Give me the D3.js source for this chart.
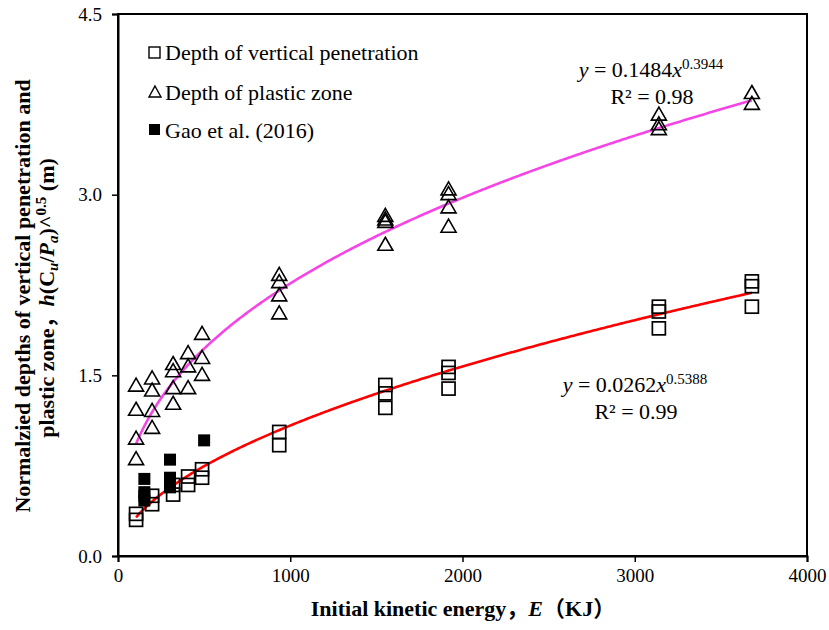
<!DOCTYPE html>
<html>
<head>
<meta charset="utf-8">
<script src="https://cdn.jsdelivr.net/npm/d3@7"></script>
<style>
  body { margin: 0; background: #fff; }
  text { font-family: "Liberation Serif", "Times New Roman", "Noto Sans CJK SC", serif; }
</style>
</head>
<body>
<svg id="chart" width="829" height="630"></svg>
<script>
// measured points, [E (kJ), normalized depth]
var penetration = [
    [105, 0.30], [105, 0.35],
    [198, 0.43], [198, 0.50],
    [320, 0.51], [320, 0.59],
    [407, 0.59], [407, 0.66],
    [488, 0.65], [488, 0.72],
    [936, 0.92], [936, 1.03],
    [1552, 1.23], [1552, 1.35], [1552, 1.42],
    [1919, 1.39], [1919, 1.52], [1919, 1.57],
    [3140, 1.89], [3140, 2.03], [3140, 2.07],
    [3680, 2.07], [3680, 2.24], [3680, 2.28]
];
var plastic = [
    [105, 0.80], [105, 0.97], [105, 1.21], [105, 1.41],
    [198, 1.06], [198, 1.20], [198, 1.37], [198, 1.47],
    [320, 1.26], [320, 1.39], [320, 1.53], [320, 1.59],
    [407, 1.39], [407, 1.57], [407, 1.68],
    [488, 1.50], [488, 1.64], [488, 1.84],
    [936, 2.01], [936, 2.16], [936, 2.27], [936, 2.33],
    [1552, 2.58], [1552, 2.77], [1552, 2.79], [1552, 2.82],
    [1919, 2.73], [1919, 2.89], [1919, 3.00], [1919, 3.04],
    [3140, 3.54], [3140, 3.58], [3140, 3.66],
    [3680, 3.75], [3680, 3.84]
];
var gao = [
    [153, 0.46], [153, 0.50], [153, 0.53], [153, 0.64],
    [302, 0.57], [302, 0.61], [302, 0.65], [302, 0.80],
    [500, 0.96]
];
// power trend lines y = a * x^b
var fitPenetration = {a: 0.0262, b: 0.5388, r2: "0.99"};
var fitPlastic = {a: 0.1484, b: 0.3944, r2: "0.98"};
var xTicks = [0, 1000, 2000, 3000, 4000];
var yTicks = [0, 1.5, 3.0, 4.5];

var svg = d3.select("#chart");
var plotLeft = 118, plotRight = 807, plotTop = 14, plotBottom = 556;

var x = d3.scaleLinear().domain([0, 4000]).range([plotLeft, plotRight]);
var y = d3.scaleLinear().domain([0, 4.5]).range([plotBottom, plotTop]);

// frame
svg.append("rect")
    .attr("x", plotLeft).attr("y", plotTop)
    .attr("width", plotRight - plotLeft).attr("height", plotBottom - plotTop)
    .attr("fill", "none").attr("stroke", "#000").attr("stroke-width", 2);

var xAxis = svg.append("g")
    .attr("transform", "translate(0," + plotBottom + ")")
    .call(d3.axisBottom(x).tickValues(xTicks).tickSize(6).tickPadding(7).tickFormat(d3.format("d")));
var yAxis = svg.append("g")
    .attr("transform", "translate(" + plotLeft + ",0)")
    .call(d3.axisLeft(y).tickValues(yTicks).tickSize(6).tickPadding(10).tickFormat(d3.format(".1f")));
[xAxis, yAxis].forEach(function(g) {
    g.select(".domain").attr("stroke-width", 2);
    g.selectAll(".tick line").attr("stroke-width", 1.5);
    g.selectAll(".tick text")
        .style("font-family", "'Liberation Serif', serif")
        .style("font-size", "19px")
        .attr("fill", "#000");
});

// trend curves
function curve(fit) {
    var xs = d3.range(105, 3680, 10).concat([3680]);
    return d3.line()
        .x(function(d) { return x(d); })
        .y(function(d) { return y(fit.a * Math.pow(d, fit.b)); })(xs);
}
svg.append("path").attr("d", curve(fitPlastic))
    .attr("fill", "none").attr("stroke", "#f545e6").attr("stroke-width", 2.6);
svg.append("path").attr("d", curve(fitPenetration))
    .attr("fill", "none").attr("stroke", "#ff0000").attr("stroke-width", 2.6);

// markers
var sq = 13;
svg.append("g").selectAll("rect").data(penetration).enter().append("rect")
    .attr("x", function(d) { return x(d[0]) - sq / 2; })
    .attr("y", function(d) { return y(d[1]) - sq / 2; })
    .attr("width", sq).attr("height", sq)
    .attr("fill", "none").attr("stroke", "#000").attr("stroke-width", 1.7);

var tri = "M0,-8L7.5,5L-7.5,5Z";
svg.append("g").selectAll("path").data(plastic).enter().append("path")
    .attr("d", tri)
    .attr("transform", function(d) { return "translate(" + x(d[0]) + "," + y(d[1]) + ")"; })
    .attr("fill", "none").attr("stroke", "#000").attr("stroke-width", 1.6);

svg.append("g").selectAll("rect").data(gao).enter().append("rect")
    .attr("x", function(d) { return x(d[0]) - 6; })
    .attr("y", function(d) { return y(d[1]) - 6; })
    .attr("width", 12).attr("height", 12)
    .attr("fill", "#000");

// legend
var legend = svg.append("g").attr("font-size", "22px");
legend.append("rect").attr("x", 149).attr("y", 47).attr("width", 11).attr("height", 11)
    .attr("fill", "none").attr("stroke", "#000").attr("stroke-width", 1.4);
legend.append("text").attr("x", 165).attr("y", 60).text("Depth of vertical penetration");
legend.append("path").attr("d", "M155,86L161,97L149,97Z")
    .attr("fill", "none").attr("stroke", "#000").attr("stroke-width", 1.4);
legend.append("text").attr("x", 165).attr("y", 100).text("Depth of plastic zone");
legend.append("rect").attr("x", 149).attr("y", 124).attr("width", 11).attr("height", 11)
    .attr("fill", "#000");
legend.append("text").attr("x", 165).attr("y", 138).text("Gao et al. (2016)");

// equations
function equation(cx, cy, fit) {
    var t = svg.append("text").attr("x", cx).attr("y", cy).attr("text-anchor", "middle").attr("font-size", "22px");
    t.append("tspan").attr("font-style", "italic").text("y");
    t.append("tspan").text(" = " + fit.a.toFixed(4));
    t.append("tspan").attr("font-style", "italic").text("x");
    t.append("tspan").attr("font-size", "15px").attr("dy", -8).text(fit.b.toFixed(4));
    svg.append("text").attr("x", cx + 1).attr("y", cy + 27).attr("text-anchor", "middle")
        .attr("font-size", "22px").text("R\u00b2 = " + fit.r2);
}
equation(651, 77, fitPlastic);
equation(635, 392, fitPenetration);

// axis titles
var xt = svg.append("text").attr("x", 463).attr("y", 616).attr("text-anchor", "middle")
    .attr("font-size", "22px").attr("font-weight", "bold");
xt.append("tspan").text("Initial kinetic energy\uff0c");
xt.append("tspan").attr("font-style", "italic").text("E");
xt.append("tspan").text("\uff08KJ\uff09");

var yt = svg.append("g").attr("transform", "translate(0,296) rotate(-90)")
    .attr("font-size", "22px").attr("font-weight", "bold");
yt.append("text").attr("x", 0).attr("y", 30).attr("text-anchor", "middle")
    .text("Normalzied depths of vertical penetration and");
var l2 = yt.append("text").attr("x", -2).attr("y", 54).attr("text-anchor", "middle");
l2.append("tspan").text("plastic zone\uff0c");
l2.append("tspan").attr("font-style", "italic").text("h");
l2.append("tspan").text("(C");
l2.append("tspan").attr("font-style", "italic").attr("font-size", "15px").attr("dy", 4).text("u");
l2.append("tspan").attr("dy", -4).text("/");
l2.append("tspan").attr("font-style", "italic").text("P");
l2.append("tspan").attr("font-style", "italic").attr("font-size", "15px").attr("dy", 4).text("a");
l2.append("tspan").attr("dy", -4).text(")^");
l2.append("tspan").attr("font-size", "15px").attr("dy", -8).text("0.5");
l2.append("tspan").attr("dy", 8).text(" (m)");
</script>
</body>
</html>
